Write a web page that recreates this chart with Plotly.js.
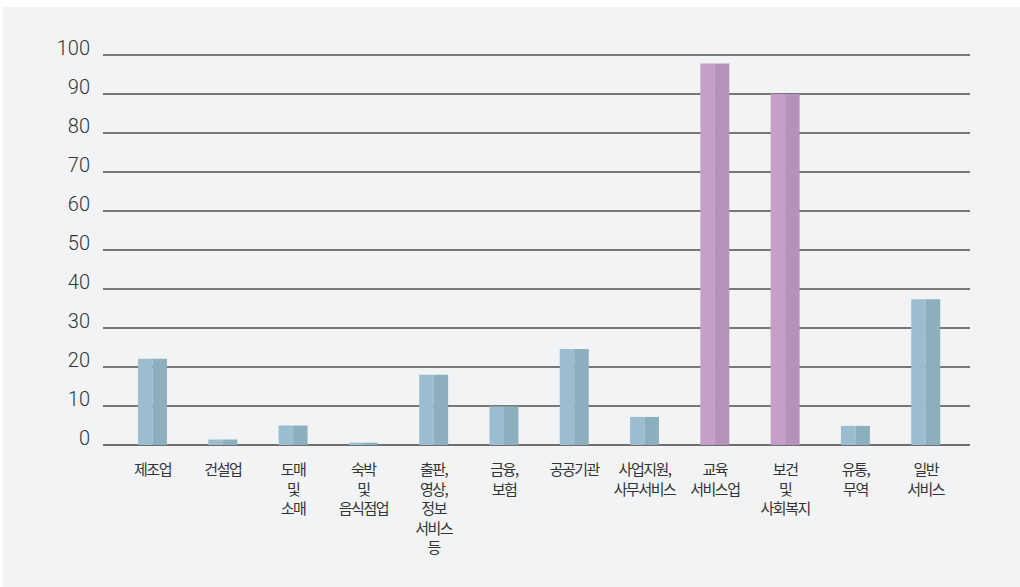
<!DOCTYPE html>
<html>
<head>
<meta charset="utf-8">
<script src="https://cdn.plot.ly/plotly-3.0.1.min.js"></script>
<style>
  html, body { margin: 0; padding: 0; background: #ffffff; }
  #chart { position: absolute; left: 3px; top: 7px; width: 1017px; height: 580px; }
  #chart .xtick text { letter-spacing: -1.5px; }
</style>
</head>
<body>
<div id="chart"></div>
<script>
const categories = [
  "제조업", "건설업", "도매<br>및<br>소매", "숙박<br>및<br>음식점업",
  "출판,<br>영상,<br>정보<br>서비스<br>등", "금융,<br>보험", "공공기관",
  "사업지원,<br>사무서비스", "교육<br>서비스업", "보건<br>및<br>사회복지",
  "유통,<br>무역", "일반<br>서비스"
];
const values = [22.1, 1.4, 5.0, 0.6, 18.0, 9.9, 24.6, 7.2, 97.8, 90.0, 4.9, 37.4];
const highlighted = [false, false, false, false, false, false, false, false, true, true, false, false];
const yTicks = [0, 10, 20, 30, 40, 50, 60, 70, 80, 90, 100];

const idx = categories.map((_, i) => i);
const lightColors = highlighted.map(h => h ? "#c69fc9" : "#9bbdcf");
const darkColors = highlighted.map(h => h ? "#b592b9" : "#8cafbd");
const halfW = 0.206;

const traces = [
  { type: "bar", x: idx, y: values, width: halfW, offset: -halfW,
    marker: { color: lightColors, line: { width: 0 } }, hoverinfo: "skip" },
  { type: "bar", x: idx, y: values, width: halfW, offset: 0,
    marker: { color: darkColors, line: { width: 0 } }, hoverinfo: "skip" }
];

const layout = {
  width: 1017, height: 580,
  margin: { l: 100, r: 50, t: 47, b: 142 },
  paper_bgcolor: "#f2f3f5",
  plot_bgcolor: "#f2f3f5",
  showlegend: false,
  barmode: "overlay",
  xaxis: {
    range: [-0.704, 11.63],
    tickmode: "array", tickvals: idx, ticktext: categories,
    showgrid: false, zeroline: false, showline: false, ticks: "",
    ticklabelstandoff: 14,
    tickfont: { family: "Noto Sans CJK KR", size: 15, color: "#333333" },
    fixedrange: true
  },
  yaxis: {
    range: [0, 100.26],
    tickmode: "array", tickvals: yTicks, ticktext: yTicks.map(String),
    showgrid: true, gridcolor: "#777777", gridwidth: 1.3,
    zeroline: true, zerolinecolor: "#6e6e6e", zerolinewidth: 1.5,
    showline: false, ticks: "",
    ticklabelstandoff: 12,
    ticklabelshift: -7,
    tickfont: { family: "Roboto", size: 20, color: "#333333", weight: 300 },
    fixedrange: true
  }
};

Plotly.newPlot("chart", traces, layout, { displayModeBar: false, staticPlot: true });
</script>
</body>
</html>
